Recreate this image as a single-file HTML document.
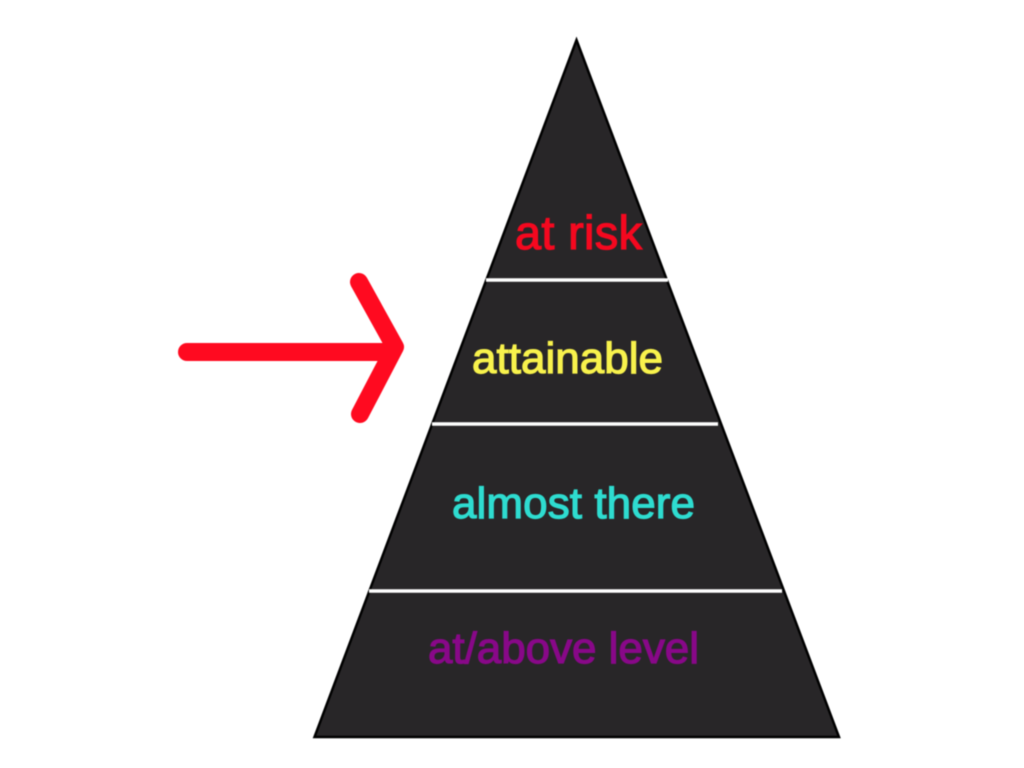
<!DOCTYPE html>
<html>
<head>
<meta charset="utf-8">
<style>
html,body{margin:0;padding:0;background:#fff;width:1024px;height:768px;overflow:hidden}
svg{display:block;filter:blur(.45px)}
text{font-family:"Liberation Sans",sans-serif;font-size:44px;stroke-width:1.2px}
</style>
</head>
<body>
<svg width="1024" height="768" viewBox="0 0 1024 768">
<polygon points="576.5,40 839,737 314.5,737" fill="#282628" stroke="#000" stroke-width="2.5"/>
<line x1="486" y1="280" x2="668" y2="280" stroke="#fff" stroke-width="3.6"/>
<line x1="432" y1="424" x2="718" y2="424" stroke="#fff" stroke-width="3.6"/>
<line x1="369" y1="591" x2="782" y2="591" stroke="#fff" stroke-width="3.6"/>
<text x="515" y="249" fill="#f5081f" stroke="#f5081f" style="font-size:47px" textLength="127" lengthAdjust="spacing">at risk</text>
<text x="472" y="373" fill="#f8f24c" stroke="#f8f24c" textLength="191" lengthAdjust="spacing">attainable</text>
<text x="452" y="518" fill="#2edcd0" stroke="#2edcd0" textLength="243" lengthAdjust="spacing">almost there</text>
<text x="428" y="663" fill="#880888" stroke="#880888" textLength="271" lengthAdjust="spacing">at/above level</text>
<g fill="none" stroke="#ff0a20" stroke-width="18" stroke-linecap="round" stroke-linejoin="round">
<line x1="187" y1="352" x2="392" y2="352"/>
<polyline points="359,282 395,347 360,414"/>
</g>
</svg>
</body>
</html>
